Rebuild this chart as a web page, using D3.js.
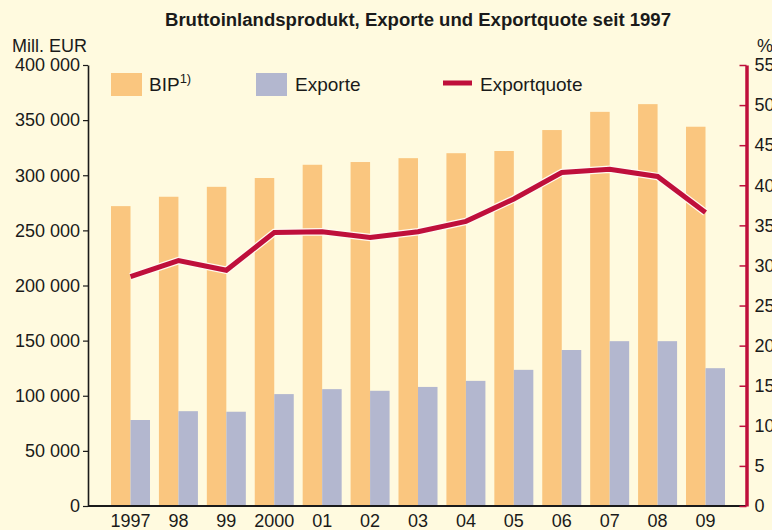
<!DOCTYPE html>
<html>
<head>
<meta charset="utf-8">
<script src="https://cdn.jsdelivr.net/npm/d3@7"></script>
<style>
  body { margin: 0; background: #fffadf; }
  svg { display: block; font-family: "Liberation Sans", Arial, sans-serif; }
</style>
</head>
<body>
<svg width="772" height="530"></svg>
<script>
// Data
const years = ["1997", "98", "99", "2000", "01", "02", "03", "04", "05", "06", "07", "08", "09"];
const bip = [272000, 280500, 289500, 297500, 309500, 312000, 315500, 320000, 322000, 341000, 357500, 364500, 344000];
const exporte = [78000, 86000, 85500, 101500, 106000, 104500, 108000, 113500, 123500, 141500, 149500, 149500, 125000];
const quote = [28.6, 30.6, 29.4, 34.1, 34.2, 33.5, 34.2, 35.5, 38.3, 41.6, 42.0, 41.1, 36.6];
const leftTicks = [0, 50000, 100000, 150000, 200000, 250000, 300000, 350000, 400000];
const rightTicks = [0, 5, 10, 15, 20, 25, 30, 35, 40, 45, 50, 55];

const colBip = "#fac67f", colExp = "#b3b7cf", colRed = "#bf0f3b";

const svg = d3.select("svg");

svg.append("rect").attr("width", 772).attr("height", 530).attr("fill", "#fffadf");

const x = d3.scaleBand().domain(years).range([111, 725]).paddingInner(0.186).paddingOuter(0);
const xSub = d3.scaleBand().domain(["bip", "exp"]).range([0, x.bandwidth()]);
const y = d3.scaleLinear().domain([0, 400000]).range([506, 65]);
const yR = d3.scaleLinear().domain([0, 55]).range([506, 65]);

// Title
svg.append("text")
    .attr("x", 165).attr("y", 26)
    .attr("font-weight", "bold")
    .attr("font-size", 18)
    .attr("textLength", 506)
    .attr("lengthAdjust", "spacingAndGlyphs")
    .attr("fill", "#1a1a1a")
    .text("Bruttoinlandsprodukt, Exporte und Exportquote seit 1997");

svg.append("text").attr("x", 12).attr("y", 52).attr("font-size", 18).attr("fill", "#1a1a1a").text("Mill. EUR");
svg.append("text").attr("x", 757).attr("y", 52).attr("font-size", 18).attr("fill", "#1a1a1a").text("%");

// Bars
const groups = svg.append("g").selectAll("g").data(years).join("g")
    .attr("transform", d => `translate(${x(d)},0)`);

groups.append("rect")
    .attr("x", xSub("bip")).attr("width", xSub.bandwidth())
    .attr("y", (d, i) => y(bip[i])).attr("height", (d, i) => y(0) - y(bip[i]))
    .attr("fill", colBip);

groups.append("rect")
    .attr("x", xSub("exp")).attr("width", xSub.bandwidth())
    .attr("y", (d, i) => y(exporte[i])).attr("height", (d, i) => y(0) - y(exporte[i]))
    .attr("fill", colExp);

// Exportquote line
const line = d3.line()
    .x((d, i) => x(years[i]) + x.bandwidth() / 2)
    .y(d => yR(d));

svg.append("path").datum(quote)
    .attr("fill", "none").attr("stroke", "#fffaf0").attr("stroke-width", 7.5)
    .attr("d", line);
svg.append("path").datum(quote)
    .attr("fill", "none").attr("stroke", colRed).attr("stroke-width", 5)
    .attr("d", line);

// Left axis
const fmt = v => d3.format(",")(v).replace(/,/g, " ");
const gL = svg.append("g").attr("transform", "translate(88,0)")
    .call(d3.axisLeft(y).tickValues(leftTicks).tickFormat(fmt).tickSize(5).tickPadding(3).tickSizeOuter(0));
gL.select(".domain").attr("stroke", "#1a1a1a").attr("stroke-width", 1.6);
gL.selectAll(".tick line").attr("stroke", "#1a1a1a").attr("stroke-width", 1.2);
gL.selectAll("text").attr("font-size", 18).attr("fill", "#1a1a1a").attr("font-family", null);

// Bottom axis
const gB = svg.append("g").attr("transform", "translate(0,506)")
    .call(d3.axisBottom(x).tickSize(0).tickPadding(8));
gB.select(".domain").attr("d", "M88,0H746").attr("stroke", "#1a1a1a").attr("stroke-width", 2);
gB.selectAll("text").attr("font-size", 18).attr("fill", "#1a1a1a").attr("font-family", null);

// Right axis
const gR = svg.append("g").attr("transform", "translate(746.5,0)")
    .call(d3.axisRight(yR).tickValues(rightTicks).tickSize(-7).tickPadding(8).tickSizeOuter(0));
gR.select(".domain").attr("stroke", colRed).attr("stroke-width", 3.5);
gR.selectAll(".tick line").attr("stroke", colRed).attr("stroke-width", 1.5);
gR.selectAll("text").attr("font-size", 18).attr("fill", "#1a1a1a").attr("font-family", null);

// Legend
const leg = svg.append("g");
leg.append("rect").attr("x", 111).attr("y", 73).attr("width", 31).attr("height", 23).attr("fill", colBip);
const t1 = leg.append("text").attr("x", 149).attr("y", 91).attr("font-size", 19).attr("fill", "#1a1a1a");
t1.append("tspan").text("BIP");
t1.append("tspan").attr("dy", -8).attr("font-size", 13).text("1)");
leg.append("rect").attr("x", 256).attr("y", 73).attr("width", 31).attr("height", 23).attr("fill", colExp);
leg.append("text").attr("x", 295).attr("y", 91).attr("font-size", 19).attr("fill", "#1a1a1a").text("Exporte");
leg.append("line").attr("x1", 443).attr("x2", 472).attr("y1", 83).attr("y2", 83)
    .attr("stroke", colRed).attr("stroke-width", 5);
leg.append("text").attr("x", 480).attr("y", 91).attr("font-size", 19).attr("fill", "#1a1a1a").text("Exportquote");
</script>
</body>
</html>
